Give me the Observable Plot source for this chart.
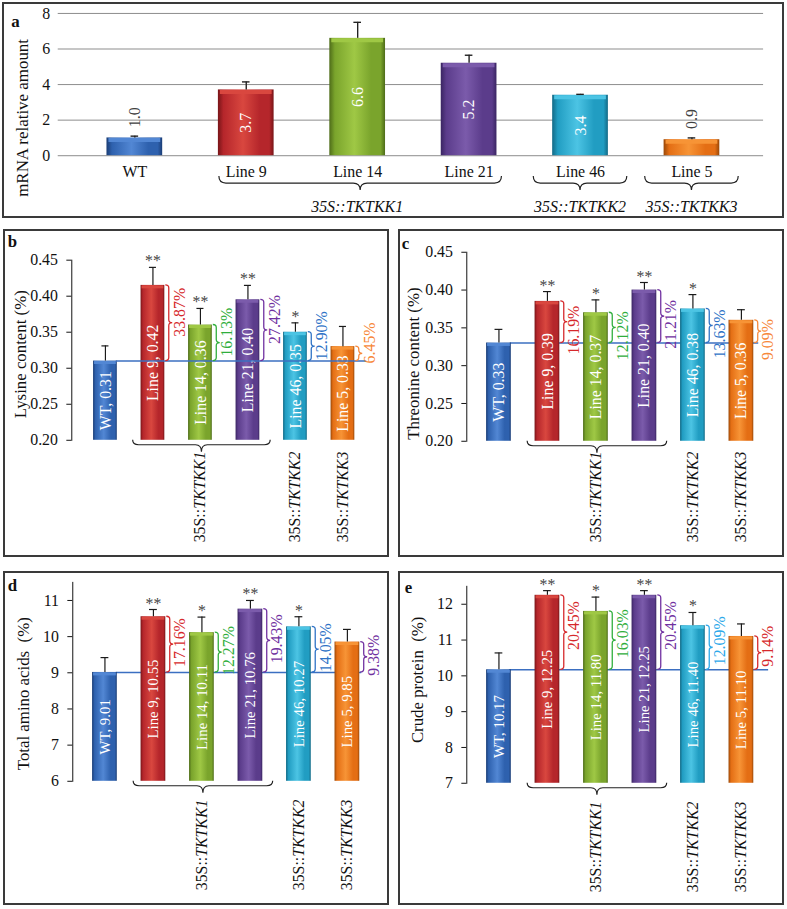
<!DOCTYPE html>
<html><head><meta charset="utf-8">
<script src="https://cdn.jsdelivr.net/npm/d3@7"></script>
<script src="https://cdn.jsdelivr.net/npm/@observablehq/plot@0.6"></script>
<style>
body{margin:0;background:#fff;}
#fig{position:relative;width:787px;height:909px;background:#fff;overflow:hidden;}
.panel{position:absolute;box-sizing:border-box;border:2px solid #3a3a3a;}
.panel svg{position:absolute;left:-2px;top:-2px;overflow:visible;}
</style></head><body>
<svg width="0" height="0" style="position:absolute"><defs id="defs"></defs></svg>
<div id="fig"></div>
<script>
// ---------- data ----------
const lines = ["WT", "Line 9", "Line 14", "Line 21", "Line 46", "Line 5"];
const groupNames = [["35S::", "TKTKK1"], ["35S::", "TKTKK2"], ["35S::", "TKTKK3"]];
const groupMembers = [["Line 9", "Line 14", "Line 21"], ["Line 46"], ["Line 5"]];

const mrnaTitle = "mRNA relative amount";
const mrnaTicks = [0, 2, 4, 6, 8];
const mrnaValues = [1.0, 3.7, 6.6, 5.2, 3.4, 0.9];
const mrnaErrors = [0.1, 0.45, 0.9, 0.45, 0.05, 0.1];
const mrnaLabels = ["1.0", "3.7", "6.6", "5.2", "3.4", "0.9"];

const lysTitle = "Lysine content (%)";
const lysTicks = [0.20, 0.25, 0.30, 0.35, 0.40, 0.45];
const lysValues = [0.31, 0.415, 0.36, 0.395, 0.35, 0.33];
const lysErrors = [0.021, 0.025, 0.023, 0.02, 0.013, 0.028];
const lysLabels = ["0.31", "0.42", "0.36", "0.40", "0.35", "0.33"];
const lysPct = [null, "33.87%", "16.13%", "27.42%", "12.90%", "6.45%"];
const lysStars = ["", "**", "**", "**", "*", ""];

const thrTitle = "Threonine content (%)";
const thrTicks = [0.20, 0.25, 0.30, 0.35, 0.40, 0.45];
const thrValues = [0.33, 0.385, 0.37, 0.40, 0.375, 0.36];
const thrErrors = [0.018, 0.013, 0.017, 0.01, 0.019, 0.014];
const thrLabels = ["0.33", "0.39", "0.37", "0.40", "0.38", "0.36"];
const thrPct = [null, "16.19%", "12.12%", "21.21%", "13.63%", "9.09%"];
const thrStars = ["", "**", "*", "**", "*", ""];

const aaTitle = "Total amino acids  (%)";
const aaTicks = [6, 7, 8, 9, 10, 11];
const aaValues = [9.01, 10.55, 10.11, 10.76, 10.27, 9.85];
const aaErrors = [0.41, 0.2, 0.43, 0.24, 0.28, 0.35];
const aaLabels = ["9.01", "10.55", "10.11", "10.76", "10.27", "9.85"];
const aaPct = [null, "17.16%", "12.27%", "19.43%", "14.05%", "9.38%"];
const aaStars = ["", "**", "*", "**", "*", ""];

const cpTitle = "Crude protein  (%)";
const cpTicks = [7, 8, 9, 10, 11, 12];
const cpValues = [10.17, 12.25, 11.80, 12.25, 11.40, 11.10];
const cpErrors = [0.47, 0.13, 0.4, 0.13, 0.37, 0.35];
const cpLabels = ["10.17", "12.25", "11.80", "12.25", "11.40", "11.10"];
const cpPct = [null, "20.45%", "16.03%", "20.45%", "12.09%", "9.14%"];
const cpStars = ["", "**", "*", "**", "*", ""];

// ---------- styles ----------
const FONT = '"Liberation Serif", "Times New Roman", serif';
const barBase  = ["#2e61ae", "#b5262b", "#7aa42c", "#5b3c8b", "#219dc2", "#e46e14"];
const barLight = ["#5287d4", "#d9473f", "#9fc845", "#7b5bab", "#4cc4e4", "#f79436"];
const barDark  = ["#1b3d75", "#781518", "#4e6c19", "#3a2562", "#136a86", "#9a4807"];
const RED = "#d6282b", GREEN = "#2fae3c", PURPLE = "#7030a0", BLUE = "#2e72c6", ORANGE = "#f7883a", LBLUE = "#2ca8ea";
const pctColorsB = [null, RED, GREEN, PURPLE, BLUE, ORANGE];
const pctColorsC = [null, RED, GREEN, PURPLE, BLUE, ORANGE];
const pctColorsD = [null, RED, GREEN, PURPLE, BLUE, PURPLE];
const pctColorsE = [null, RED, GREEN, PURPLE, LBLUE, RED];

// gradients
const defs = d3.select("#defs");
barBase.forEach((c, i) => {
  const g = defs.append("linearGradient").attr("id", "bar" + i).attr("x1", 0).attr("x2", 1).attr("y1", 0).attr("y2", 0);
  [[0, barDark[i]], [0.1, c], [0.45, barLight[i]], [0.75, c], [0.92, c], [1, barDark[i]]]
    .forEach(([o, col]) => g.append("stop").attr("offset", o).attr("stop-color", col));
});

const fig = document.getElementById("fig");

function makeDiv(cfg) {
  const div = document.createElement("div");
  div.className = "panel";
  Object.assign(div.style, {left: cfg.left + "px", top: cfg.top + "px", width: cfg.width + "px", height: cfg.height + "px"});
  fig.appendChild(div);
  return div;
}

function hBrace(x1, x2, yEnd, yLine, yTip, r = 6) {
  const xm = (x1 + x2) / 2;
  return `M${x1},${yEnd} Q${x1},${yLine} ${x1 + r},${yLine} L${xm - r},${yLine} Q${xm},${yLine} ${xm},${yTip} Q${xm},${yLine} ${xm + r},${yLine} L${x2 - r},${yLine} Q${x2},${yLine} ${x2},${yEnd}`;
}
function vBrace(x0, yTop, yBot, w) {
  const x1 = x0 + w * 0.5, x2 = x0 + w, ym = (yTop + yBot) / 2;
  const r = Math.min(3, (yBot - yTop) / 4);
  return `M${x0},${yTop} Q${x1},${yTop} ${x1},${yTop + r} L${x1},${ym - r} Q${x1},${ym} ${x2},${ym} Q${x1},${ym} ${x1},${ym + r} L${x1},${yBot - r} Q${x1},${yBot} ${x0},${yBot}`;
}

// ---------- panel a ----------
(function () {
  const cfg = {left: 2, top: 2, width: 782, height: 216, mL: 56, mR: 17, mT: 11, mB: 62, insetL: 47, insetR: 42};
  const PAD = 0.5;
  const div = makeDiv(cfg);
  const rows = lines.map((name, i) => ({name, v: mrnaValues[i], e: mrnaErrors[i], lab: mrnaLabels[i], fill: `url(#bar${i})`, light: barLight[i]}));
  const step = (cfg.width - cfg.mR - cfg.insetR - cfg.mL - cfg.insetL) / (lines.length - PAD);
  const bw = step * (1 - PAD);
  const capInset = (bw - 8) / 2;
  const chart = Plot.plot({
    width: cfg.width, height: cfg.height,
    marginLeft: cfg.mL, marginRight: cfg.mR, marginTop: cfg.mT, marginBottom: cfg.mB,
    style: {fontFamily: FONT, fontSize: "16px", background: "transparent", color: "#111", overflow: "visible"},
    x: {domain: lines, paddingInner: PAD, paddingOuter: 0, insetLeft: cfg.insetL, insetRight: cfg.insetR, axis: null},
    y: {domain: [0, 8], ticks: mrnaTicks, tickSize: 0, tickPadding: 8, label: null},
    color: {type: "identity"},
    marks: [
      Plot.ruleY(mrnaTicks, {stroke: "#8c8c8c", strokeWidth: 1}),
      Plot.barY(rows, {x: "name", y1: () => 0, y2: "v", fill: "fill"}),
      Plot.tickY(rows, {x: "name", y: "v", stroke: "light", strokeWidth: 4, dy: 2, insetLeft: 2, insetRight: 2}),
      Plot.ruleX(rows, {x: "name", y1: "v", y2: d => d.v + d.e, stroke: "#222", strokeWidth: 1.4}),
      Plot.tickY(rows, {x: "name", y: d => d.v + d.e, stroke: "#222", strokeWidth: 1.4, insetLeft: capInset, insetRight: capInset}),
      Plot.text(rows.filter(d => d.v >= 2), {x: "name", y: d => d.v / 2, text: "lab", rotate: -90, fill: "white", fontSize: 16}),
      Plot.text(rows.filter(d => d.v < 2), {x: "name", y: d => d.v + d.e, text: "lab", rotate: -90, textAnchor: "start", dy: -9, fill: "#404040", fontSize: 16}),
      Plot.text(lines, {x: d => d, frameAnchor: "bottom", textAnchor: "middle", lineAnchor: "middle", dy: 16, fontSize: 16, fill: "#111"}),
      Plot.text([mrnaTitle], {frameAnchor: "left", textAnchor: "middle", lineAnchor: "middle", rotate: -90, dx: -36, dy: 33.5, fontSize: 17, fill: "#111"}),
      Plot.text(["a"], {frameAnchor: "top-left", textAnchor: "middle", lineAnchor: "middle", dx: 13 - cfg.mL, dy: 19 - cfg.mT, fontWeight: "bold", fontSize: 17, fill: "#111"})
    ]
  });
  div.appendChild(chart);
  const sx = chart.scale("x");
  const g = d3.select(chart).append("g").attr("fill", "none").attr("stroke", "#222").attr("stroke-width", 1.2);
  const gt = d3.select(chart).append("g").attr("font-family", FONT).attr("font-size", 16).attr("font-style", "italic").attr("fill", "#111");
  groupMembers.forEach((mem, k) => {
    const c1 = sx.apply(mem[0]) + sx.bandwidth / 2;
    const c2 = sx.apply(mem[mem.length - 1]) + sx.bandwidth / 2;
    const x1 = mem.length > 1 ? c1 - 27 : c1 - 47;
    const x2 = mem.length > 1 ? c2 + 33 : c2 + 47;
    g.append("path").attr("d", hBrace(x1, x2, 175, 182, 189, 7));
    gt.append("text").attr("x", (c1 + c2) / 2).attr("y", 205).attr("text-anchor", "middle").attr("dy", "0.35em")
      .text(groupNames[k].join(""));
  });
})();

// ---------- panels b–e ----------
function drawPanel(cfg, ds) {
  const PAD = 0.49;
  const div = makeDiv(cfg);
  const base = ds.domain[0];
  const v0 = ds.values[0];
  const rows = lines.map((name, i) => ({
    name, v: ds.values[i], e: ds.errors[i], lab: ds.labels[i], pct: ds.pct[i], pc: ds.pctColors[i],
    star: ds.stars[i], fill: `url(#bar${i})`, light: barLight[i]
  }));
  const step = (cfg.width - cfg.mR - cfg.insetR - cfg.mL - cfg.insetL) / (lines.length - PAD);
  const bw = step * (1 - PAD);
  const capInset = (bw - 8) / 2;
  const baseline = Plot.ruleY([v0], {stroke: "#3b6fc1", strokeWidth: 1.6, insetLeft: cfg.baseInsetL, insetRight: cfg.baseInsetR});
  const marks = [
    cfg.baseOnTop ? null : baseline,
    Plot.barY(rows, {x: "name", y1: () => base, y2: "v", fill: "fill"}),
    Plot.tickY(rows, {x: "name", y: "v", stroke: "light", strokeWidth: 3, dy: 1.5, insetLeft: 1, insetRight: 1}),
    Plot.ruleX(rows, {x: "name", y1: "v", y2: d => d.v + d.e, stroke: "#1a1a1a", strokeWidth: 1.2}),
    Plot.tickY(rows, {x: "name", y: d => d.v + d.e, stroke: "#1a1a1a", strokeWidth: 1.2, insetLeft: capInset, insetRight: capInset}),
    Plot.text(rows, {x: "name", y: d => (base + d.v) / 2, text: d => `${d.name}, ${d.lab}`, rotate: -90, fill: "white", fontSize: cfg.fontSize}),
    cfg.baseOnTop ? baseline : null,
    Plot.text(rows.filter(d => d.star), {x: "name", y: d => d.v + d.e, text: "star", lineAnchor: "bottom", fill: "#444", dy: -1, fontSize: 16}),
    Plot.text(rows.filter(d => d.pct), {x: "name", y: d => (v0 + d.v) / 2, text: "pct", fill: "pc", rotate: -90, dx: bw / 2 + 14.5, dy: cfg.pctDy, fontSize: 16}),
    Plot.text([ds.title], {frameAnchor: "left", textAnchor: "middle", lineAnchor: "middle", rotate: -90, dx: cfg.titleDx, dy: cfg.titleDy, fontSize: 17, fill: "#111"}),
    Plot.text([cfg.letter], {frameAnchor: "top-left", textAnchor: "middle", lineAnchor: "middle", dx: cfg.letterX - cfg.mL, dy: cfg.letterY - cfg.mT, fontWeight: "bold", fontSize: 17, fill: "#111"})
  ].filter(Boolean);
  const chart = Plot.plot({
    width: cfg.width, height: cfg.height,
    marginLeft: cfg.mL, marginRight: cfg.mR, marginTop: cfg.mT, marginBottom: cfg.mB,
    style: {fontFamily: FONT, fontSize: "16px", background: "transparent", color: "#111", overflow: "visible"},
    x: {domain: lines, paddingInner: PAD, paddingOuter: 0, insetLeft: cfg.insetL, insetRight: cfg.insetR, axis: null},
    y: {domain: ds.domain, ticks: ds.ticks, tickFormat: ds.fmt, tickSize: 5, tickPadding: 9, line: true, label: null},
    color: {type: "identity"},
    marks
  });
  div.appendChild(chart);
  const sx = chart.scale("x"), sy = chart.scale("y");
  const bwS = sx.bandwidth;
  const svg = d3.select(chart);
  const gb = svg.append("g").attr("fill", "none").attr("stroke-width", 1.3);
  rows.forEach(d => {
    if (!d.pct) return;
    const x0 = sx.apply(d.name) + bwS + 1;
    gb.append("path").attr("stroke", d.pc).attr("d", vBrace(x0, sy.apply(d.v), sy.apply(v0), 7));
  });
  const fb = cfg.height - cfg.mB;
  const gg = svg.append("g").attr("fill", "none").attr("stroke", "#222").attr("stroke-width", 1.2);
  const gt = svg.append("g").attr("font-family", FONT).attr("font-size", 16).attr("fill", "#111");
  groupMembers.forEach((mem, k) => {
    const c1 = sx.apply(mem[0]) + bwS / 2;
    const c2 = sx.apply(mem[mem.length - 1]) + bwS / 2;
    const cx = (c1 + c2) / 2;
    if (mem.length > 1) gg.append("path").attr("d", hBrace(c1 - 20, c2 + 23, fb, fb + 5, fb + 12, 6));
    const t = gt.append("text").attr("transform", `translate(${cx},${fb + cfg.groupGap}) rotate(-90)`)
      .attr("text-anchor", "end").attr("dy", "0.35em");
    t.append("tspan").text(groupNames[k][0]);
    t.append("tspan").attr("font-style", "italic").text(groupNames[k][1]);
  });
}

drawPanel(
  {left: 3, top: 229, width: 386, height: 328, mL: 69, mR: 10, mT: 31, mB: 115, insetL: 20, insetR: 18,
   baseInsetL: 45, baseInsetR: 9, baseOnTop: true, titleDx: -52, titleDy: 4, pctDy: -11, groupGap: 12,
   letter: "b", letterX: 9, letterY: 12, fontSize: 16},
  {title: lysTitle, domain: [0.20, 0.45], ticks: lysTicks, fmt: d3.format(".2f"), values: lysValues, errors: lysErrors,
   labels: lysLabels, pct: lysPct, pctColors: pctColorsB, stars: lysStars});

drawPanel(
  {left: 398, top: 229, width: 386, height: 328, mL: 69, mR: 10, mT: 23, mB: 114, insetL: 19, insetR: 17,
   baseInsetL: 44, baseInsetR: 12, baseOnTop: false, titleDx: -54, titleDy: 17, pctDy: 8, groupGap: 11,
   letter: "c", letterX: 7, letterY: 14, fontSize: 16},
  {title: thrTitle, domain: [0.20, 0.45], ticks: thrTicks, fmt: d3.format(".2f"), values: thrValues, errors: thrErrors,
   labels: thrLabels, pct: thrPct, pctColors: pctColorsC, stars: thrStars});

drawPanel(
  {left: 3, top: 571, width: 386, height: 334, mL: 70, mR: 10, mT: 11, mB: 122, insetL: 19, insetR: 16,
   baseInsetL: 44, baseInsetR: 14, baseOnTop: false, titleDx: -50, titleDy: 12, pctDy: -2, groupGap: 19,
   letter: "d", letterX: 9, letterY: 14, fontSize: 15},
  {title: aaTitle, domain: [6, 11.5], ticks: aaTicks, fmt: d3.format("d"), values: aaValues, errors: aaErrors,
   labels: aaLabels, pct: aaPct, pctColors: pctColorsD, stars: aaStars});

drawPanel(
  {left: 398, top: 571, width: 386, height: 334, mL: 69, mR: 10, mT: 15, mB: 120, insetL: 19, insetR: 16,
   baseInsetL: 43, baseInsetR: 2, baseOnTop: false, titleDx: -50, titleDy: -5, pctDy: -7, groupGap: 19,
   letter: "e", letterX: 10, letterY: 16, fontSize: 15},
  {title: cpTitle, domain: [7, 12.5], ticks: cpTicks, fmt: d3.format("d"), values: cpValues, errors: cpErrors,
   labels: cpLabels, pct: cpPct, pctColors: pctColorsE, stars: cpStars});
</script>
</body></html>
